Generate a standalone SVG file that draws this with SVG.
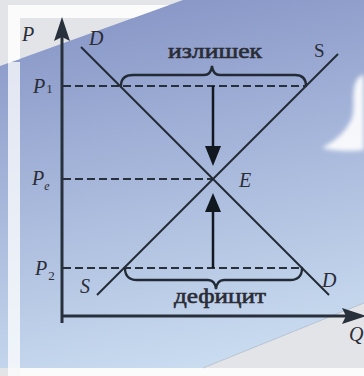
<svg xmlns="http://www.w3.org/2000/svg" width="364" height="376" viewBox="0 0 364 376">
<defs>
<linearGradient id="bg" x1="0.35" y1="0" x2="0.55" y2="1">
<stop offset="0" stop-color="#8796c6"/>
<stop offset="0.45" stop-color="#a6b6da"/>
<stop offset="1" stop-color="#cadcf0"/>
</linearGradient>
<filter id="blur" x="-20%" y="-20%" width="140%" height="140%"><feGaussianBlur stdDeviation="2"/></filter>
<style>
.ax{stroke:#28303c;stroke-width:3;fill:none}
.axh{fill:#28303c}
.cv{stroke:#222a36;stroke-width:2;fill:none}
.ds{stroke:#28303c;stroke-width:2;stroke-dasharray:8 4;fill:none}
.br{stroke:#222a36;stroke-width:2.3;fill:none;stroke-linecap:round}
.ar{stroke:#111820;stroke-width:2.5}
.ah{fill:#111820}
.lb{font-family:"Liberation Serif","Times New Roman",serif;font-style:italic;font-size:20px;fill:#2a2c36}
.up{font-family:"Liberation Serif","Times New Roman",serif;font-size:19px;fill:#2a2c36}
.wd{font-family:"Liberation Serif","Times New Roman",serif;font-size:22px;fill:#2a2c36;stroke:#2a2c36;stroke-width:0.6}
</style>
</defs>
<g id="background">
<rect x="0" y="0" width="364" height="376" fill="#e2e4e7"/>
<polygon points="0,66 183,0 364,0 364,303 203,368 0,368" fill="url(#bg)"/>
<polygon points="8,5 169,5 133,18 20,18 20,59 8,63" fill="#fbfbfb"/>
<rect x="8" y="62" width="12" height="314" fill="#ffffff" opacity="0.75"/>
<rect x="20" y="368" width="344" height="8" fill="#fbfbfc"/>
<line x1="203" y1="368" x2="364" y2="303" stroke="#9aa6ba" stroke-width="0.8" opacity="0.6"/>
<path d="M322,148 C336,140 346,132 352,118 C356,104 350,90 358,78 L364,74 L364,150 C350,152 334,151 322,148 Z" fill="#ffffff" opacity="0.9" filter="url(#blur)"/>
</g>
<g id="connectors">
<line class="ds" x1="63" y1="86" x2="306" y2="86"/>
<line class="ds" x1="63" y1="179" x2="213" y2="179"/>
<line class="ds" x1="63" y1="268" x2="302" y2="268"/>
<line class="ar" x1="213" y1="86" x2="213" y2="150"/>
<polygon class="ah" points="205,146 221,146 213,166"/>
<line class="ar" x1="213" y1="268" x2="213" y2="208"/>
<polygon class="ah" points="205,212 221,212 213,193"/>
</g>
<g id="axes">
<line class="ax" x1="62" y1="36" x2="62" y2="323"/>
<polygon class="axh" points="62,17 70,41 62,37 54,41"/>
<line class="ax" x1="61" y1="316" x2="348" y2="316"/>
<polygon class="axh" points="366,316 342,308 346,316 342,324"/>
<text class="lb" x="22" y="41" font-size="21">P</text>
<text class="lb" x="349" y="341">Q</text>
</g>
<g id="demand">
<line class="cv" x1="81" y1="47" x2="329" y2="295"/>
<text class="lb" x="89" y="45">D</text>
<text class="lb" x="322" y="287">D</text>
</g>
<g id="supply">
<line class="cv" x1="97" y1="295" x2="338" y2="54"/>
<text class="up" x="314" y="57">S</text>
<text class="lb" x="80" y="293" font-size="19">S</text>
</g>
<g id="equilibrium">
<text class="lb" x="239" y="187">E</text>
</g>
<g id="price-labels">
<text class="lb" x="33" y="93">P<tspan font-style="normal" font-size="13" dx="1">1</tspan></text>
<text class="lb" x="32" y="185">P<tspan font-size="12" dy="5">e</tspan></text>
<text class="lb" x="35" y="275">P<tspan font-style="normal" font-size="13" dy="5" dx="1">2</tspan></text>
</g>
<g id="surplus">
<path class="br" d="M121,86 Q121,75 133,75 L204,75 Q211,75 212,66 Q213,75 220,75 L295,75 Q306,75 306,86"/>
<text class="wd" x="168" y="58" textLength="94" lengthAdjust="spacingAndGlyphs">излишек</text>
</g>
<g id="deficit">
<path class="br" d="M125,268 Q125,280 137,280 L208,280 Q215,280 216,289 Q217,280 224,280 L290,280 Q302,280 302,268"/>
<text class="wd" x="174" y="303" textLength="92" lengthAdjust="spacingAndGlyphs">дефицит</text>
</g>
</svg>
